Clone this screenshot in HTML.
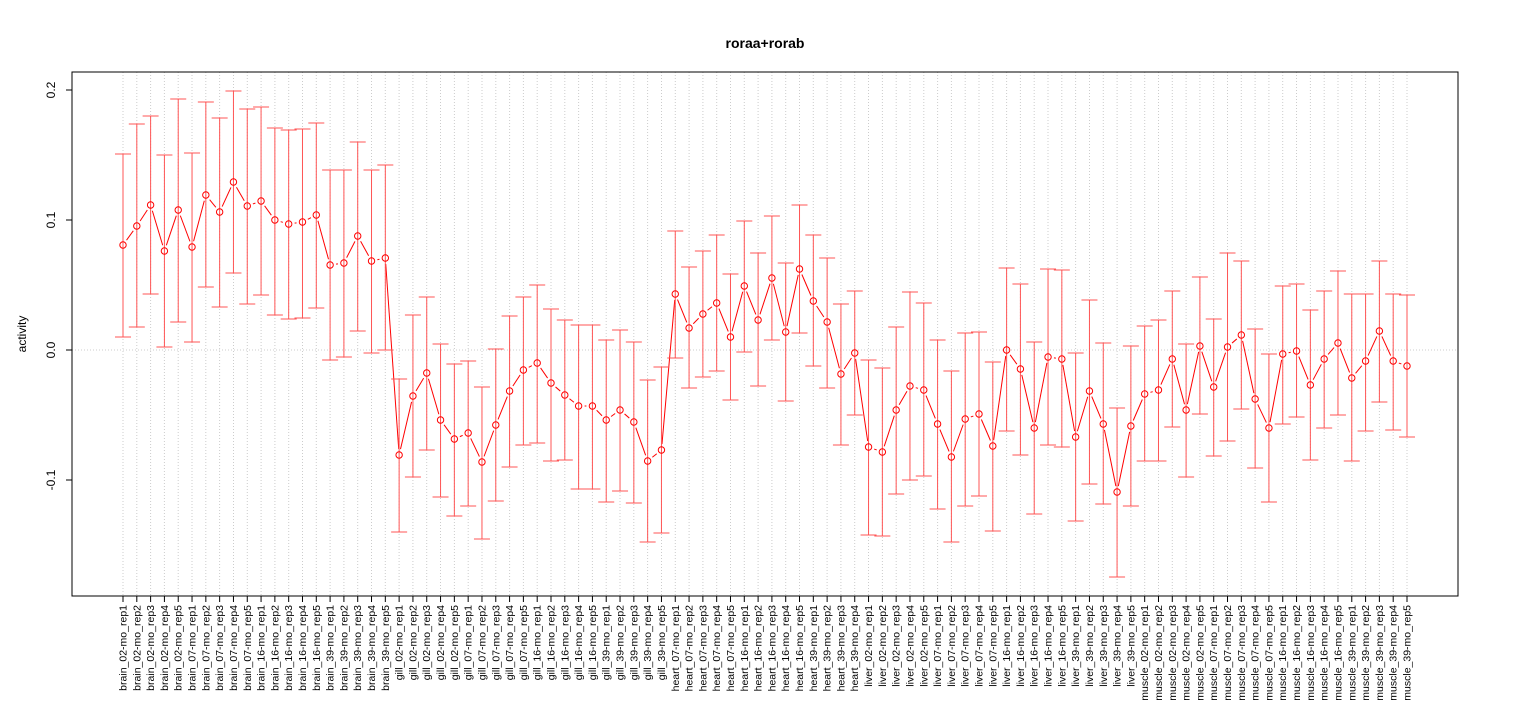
<!DOCTYPE html>
<html><head><meta charset="utf-8"><style>body{margin:0;background:#fff}svg{display:block;font-family:"Liberation Sans",sans-serif}</style></head>
<body><svg id="s" width="1530" height="720" xmlns="http://www.w3.org/2000/svg"></svg>
<script>
const d=[[245,154,337],[226,124,327],[205,116,294],[251,155,347],[210,99,322],[247,153,342],[195,102,287],[212,118,307],[182,91,273],[206,109,304],[201,107,295],[220,128,315],[224,130,319],[222,129,318],[215,123,308],[265,170,360],[263,170,357],[236,142,331],[261,170,353],[258,165,350],
[455,379,532],[396,315,477],[373,297,450],[420,344,497],[439,364,516],[433,361,506],[462,387,539],[425,349,501],[391,316,467],[370,297,445],[363,285,443],[383,309,461],[395,320,460],[406,325,489],[406,325,489],[420,340,502],[410,330,491],[422,342,503],[461,380,542],[450,367,533],
[294,231,358],[328,267,388],[314,251,377],[303,235,371],[337,274,400],[286,221,352],[320,253,386],[278,216,340],[332,263,401],[269,205,333],[301,235,366],[322,258,388],[374,304,445],[353,291,415],
[447,360,535],[452,368,536],[410,327,494],[386,292,480],[390,303,476],[424,340,509],[457,371,542],[419,333,506],[414,332,496],[446,362,531],[350,268,431],[369,284,455],[428,342,514],[357,269,445],[359,270,447],[437,353,521],[391,300,484],[424,343,504],[492,408,577],[426,346,506],
[394,326,461],[390,320,461],[359,291,427],[410,344,477],[346,277,414],[387,319,456],[347,253,441],[335,261,409],[399,329,468],[428,354,502],[354,286,424],[351,284,417],[385,310,460],[359,291,428],[343,271,415],[378,294,461],[361,294,431],[331,261,402],[361,294,430],[366,295,437]];
const labs=[];
for(const t of ["brain","gill"])for(const m of ["02","07","16","39"])for(let r=1;r<=5;r++)labs.push(t+"_"+m+"-mo_rep"+r);
for(const m of ["07","16","39"])for(let r=1;r<=(m=="39"?4:5);r++)labs.push("heart_"+m+"-mo_rep"+r);
for(const t of ["liver","muscle"])for(const m of ["02","07","16","39"])for(let r=1;r<=5;r++)labs.push(t+"_"+m+"-mo_rep"+r);
let h='';
const X=i=>123+i*1284/93;
for(let i=0;i<94;i++){const x=X(i).toFixed(1);h+=`<line x1="${x}" y1="72" x2="${x}" y2="596" stroke="#ccc" stroke-dasharray="1,2"/>`;}
h+=`<line x1="72" y1="350" x2="1458" y2="350" stroke="#ccc" stroke-dasharray="1,2"/>`;
for(let i=0;i<93;i++){const x1=X(i),y1=d[i][0],x2=X(i+1),y2=d[i+1][0];const dx=x2-x1,dy=y2-y1,L=Math.hypot(dx,dy);if(L>13){const ux=dx/L*6,uy=dy/L*6;h+=`<line x1="${x1+ux}" y1="${y1+uy}" x2="${x2-ux}" y2="${y2-uy}" stroke="#f00"/>`;}}
for(let i=0;i<94;i++){const x=X(i),[m,t,b]=d[i];h+=`<line x1="${x}" y1="${t}" x2="${x}" y2="${b}" stroke="#f55"/><line x1="${x-8}" y1="${t}" x2="${x+8}" y2="${t}" stroke="#f55"/><line x1="${x-8}" y1="${b}" x2="${x+8}" y2="${b}" stroke="#f55"/><circle cx="${x}" cy="${m}" r="3.2" fill="none" stroke="#f00"/>`;
h+=`<line x1="${x}" y1="596" x2="${x}" y2="602" stroke="#000"/><text transform="translate(${x+3.5},605) rotate(-90)" text-anchor="end" font-size="10.5">${labs[i]}</text>`;}
h+=`<rect x="72" y="72" width="1386" height="524" fill="none" stroke="#000"/>`;
[[0.2,90],[0.1,220],[0.0,350],[-0.1,480]].forEach(([v,y])=>{h+=`<line x1="66" y1="${y}" x2="72" y2="${y}" stroke="#000"/><text transform="translate(55,${y}) rotate(-90)" text-anchor="middle" font-size="12">${v==0?"0.0":v}</text>`;});
h+=`<line x1="72" y1="90" x2="72" y2="480" stroke="#000"/>`;
h+=`<text transform="translate(26,334) rotate(-90)" text-anchor="middle" font-size="12">activity</text>`;
h+=`<text x="765" y="48" text-anchor="middle" font-size="14" font-weight="bold">roraa+rorab</text>`;
document.getElementById('s').innerHTML=h;
</script></body></html>
